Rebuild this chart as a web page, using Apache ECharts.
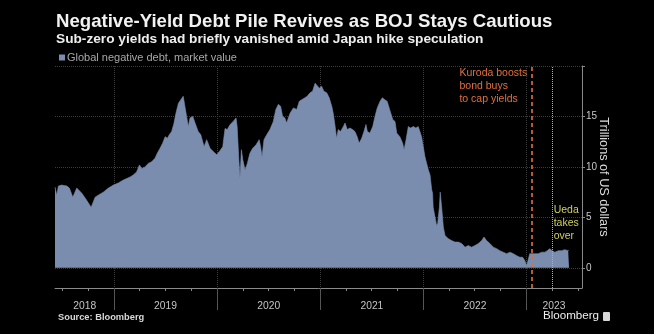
<!DOCTYPE html>
<html><head><meta charset="utf-8">
<script src="https://cdn.jsdelivr.net/npm/echarts@6/dist/echarts.min.js"></script>
<style>html,body{margin:0;padding:0;background:#000;}#c{width:654px;height:334px;}</style>
</head><body><div id="c"></div>
<script>
const seriesName = 'Global negative debt, market value';
const dates = ['2018-06-06','2018-06-12','2018-06-18','2018-06-30','2018-07-18','2018-07-27','2018-08-08','2018-08-22','2018-09-09','2018-09-26','2018-10-12','2018-10-26','2018-11-06','2018-11-24','2018-12-12','2018-12-30',
'2019-01-16','2019-02-03','2019-02-27','2019-03-10','2019-03-22','2019-04-01','2019-04-09','2019-04-21','2019-05-02','2019-05-14','2019-05-26','2019-06-03','2019-06-13','2019-06-22','2019-07-01','2019-07-09','2019-07-16','2019-07-24','2019-08-01','2019-08-08','2019-08-17','2019-08-29','2019-09-03','2019-09-09','2019-09-15','2019-09-21','2019-09-27','2019-10-07','2019-10-15','2019-10-26','2019-11-04','2019-11-16','2019-11-25','2019-12-07','2019-12-19','2019-12-31',
'2020-01-11','2020-01-21','2020-01-29','2020-02-06','2020-02-16','2020-02-27','2020-03-08','2020-03-12','2020-03-18','2020-03-22','2020-03-27','2020-04-01','2020-04-09','2020-04-17','2020-04-26','2020-05-06','2020-05-18','2020-05-29','2020-06-03','2020-06-08','2020-06-15','2020-06-25','2020-07-06','2020-07-18','2020-07-27','2020-08-05','2020-08-13','2020-08-20','2020-08-28','2020-09-03','2020-09-15','2020-09-27','2020-10-09','2020-10-18','2020-10-26','2020-11-07','2020-11-15','2020-11-25','2020-12-04','2020-12-13','2020-12-19','2020-12-28',
'2021-01-05','2021-01-13','2021-01-23','2021-02-01','2021-02-10','2021-02-15','2021-02-21','2021-02-27','2021-03-05','2021-03-13','2021-03-23','2021-03-29','2021-04-06','2021-04-15','2021-04-25','2021-05-03','2021-05-11','2021-05-18','2021-05-27','2021-06-04','2021-06-11','2021-06-16','2021-06-25','2021-07-05','2021-07-13','2021-07-21','2021-07-31','2021-08-08','2021-08-17','2021-08-25','2021-09-04','2021-09-14','2021-09-22','2021-09-28','2021-10-03','2021-10-09','2021-10-19','2021-10-24','2021-10-31','2021-11-08','2021-11-16','2021-11-26','2021-12-05','2021-12-13','2021-12-19','2021-12-25','2021-12-31',
'2022-01-06','2022-01-12','2022-01-18','2022-01-24','2022-01-30','2022-02-02','2022-02-04','2022-02-08','2022-02-13','2022-02-16','2022-02-20','2022-02-26','2022-03-01','2022-03-05','2022-03-08','2022-03-12','2022-03-18','2022-03-29','2022-04-10','2022-04-22','2022-05-04','2022-05-16','2022-05-28','2022-06-08','2022-06-20','2022-07-02','2022-07-14','2022-07-26','2022-08-03','2022-08-12','2022-08-24','2022-09-05','2022-09-17','2022-09-28','2022-10-10','2022-10-22','2022-11-03','2022-11-15','2022-11-27','2022-12-08','2022-12-18','2022-12-26',
'2023-01-01','2023-01-06','2023-01-12','2023-01-18','2023-01-30','2023-02-11','2023-02-23','2023-03-07','2023-03-15','2023-03-24','2023-04-01','2023-04-11','2023-04-23','2023-05-05','2023-05-16','2023-05-28','2023-05-31'];
const debt = [8.0,7.2,8.1,8.2,8.1,7.9,7.0,7.9,7.4,6.7,6.0,7.0,7.2,7.5,7.9,8.2,
8.4,8.7,9.0,9.2,9.5,10.2,9.85,10.0,10.35,10.5,10.85,11.35,11.85,12.35,13.0,12.85,13.2,13.5,14.3,15.3,16.3,16.8,17.0,16.0,15.0,14.0,14.85,15.0,14.35,13.5,13.2,12.0,12.7,11.85,11.5,11.2,
11.6,12.0,13.8,13.7,14.2,14.5,14.85,14.0,10.7,8.9,11.7,10.7,9.7,10.35,11.35,11.85,12.2,12.7,12.0,11.0,12.7,13.2,13.7,14.5,15.7,16.2,16.0,15.0,14.85,14.35,15.3,15.85,15.7,16.5,16.65,16.85,17.0,17.35,17.5,18.3,18.15,17.8,
18.0,17.5,17.35,16.85,16.0,15.35,14.2,12.85,13.7,13.5,14.0,14.35,13.7,13.85,13.7,13.5,13.0,12.35,12.85,13.5,14.2,13.5,13.35,14.0,15.0,15.85,16.5,16.85,16.65,16.5,15.6,14.7,14.5,13.35,13.5,13.0,12.35,11.7,12.7,14.0,13.85,14.0,13.85,14.0,14.0,13.0,12.0,
11.0,10.35,9.7,9.2,7.7,7.4,6.0,5.4,4.7,4.2,4.4,6.0,7.5,7.5,5.4,4.05,3.2,2.9,2.7,2.55,2.55,2.4,2.05,2.2,2.05,2.2,2.4,2.7,3.05,2.7,2.4,2.05,1.9,1.7,1.55,1.4,1.55,1.4,1.2,1.05,1.05,0.7,
0.2,0.1,1.4,1.55,1.4,1.4,1.55,1.55,1.7,1.9,1.7,1.55,1.7,1.7,1.8,1.7,1.75];
const xMin = '2018-06-06', xMax = '2023-07-16';
const yearStarts = ['2019-01-01','2020-01-01','2021-01-01','2022-01-01','2023-01-01'];
const quarterTicks = ['2018-07-01','2018-10-01','2019-04-01','2019-07-01','2019-10-01','2020-04-01','2020-07-01','2020-10-01','2021-04-01','2021-07-01','2021-10-01','2022-04-01','2022-07-01','2022-10-01','2023-04-01','2023-07-01'];
const yearLabelDates = ['2018-09-19','2019-07-02','2020-07-02','2021-07-02','2022-07-02','2023-04-08'];
const yTicks = [0,5,10,15,20];
const yLabels = [0,5,10,15];
const kuroda = {date:'2023-01-18', text:'Kuroda boosts\nbond buys\nto cap yields'};
const ueda = {date:'2023-04-03', text:'Ueda\ntakes\nover'};

const ts = s => echarts.number.parseDate(s).getTime();
const F = "'Liberation Sans', Arial, sans-serif";
const chart = echarts.init(document.getElementById('c'), null, {renderer:'canvas'});
chart.setOption({
  backgroundColor:'#000',
  animation:false,
  title:[
    {text:'Negative-Yield Debt Pile Revives as BOJ Stays Cautious', left:56, top:12, padding:0,
     textStyle:{color:'#f2f2f2', fontFamily:F, fontWeight:'bold', fontSize:18.6}},
    {text:'Sub-zero yields had briefly vanished amid Japan hike speculation', left:56, top:32, padding:0,
     textStyle:{color:'#eeeeee', fontFamily:F, fontWeight:'bold', fontSize:13.7}},
    {text:'Source: Bloomberg', left:58, top:313, padding:0,
     textStyle:{color:'#d8d8d8', fontFamily:F, fontWeight:'bold', fontSize:9.3}}
  ],
  graphic:[
    {type:'text', x:543, y:310, style:{text:'Bloomberg', align:'left', verticalAlign:'top', fill:'#eeeeee', font:"11.6px 'Liberation Sans', Arial, sans-serif"}},
    {type:'rect', shape:{x:603, y:312, width:7, height:9, r:1}, style:{fill:'#d8d8d8'}}
  ],
  legend:{data:[seriesName], left:59, top:52, padding:0, icon:'rect', itemWidth:6, itemHeight:6, itemGap:4,
    textStyle:{color:'#a8a8a8', fontFamily:"'Liberation Sans Narrow', 'Liberation Sans', sans-serif", fontSize:11, padding:[0,0,0,-3]}},
  grid:{left:55, right:72, top:66, bottom:46, containLabel:false},
  xAxis:[
    {type:'value', min:ts(xMin), max:ts(xMax), position:'bottom', scale:true,
     axisLine:{show:true, onZero:false, lineStyle:{color:'#8a8a8a', width:1}},
     axisTick:{show:true, customValues:quarterTicks.map(ts), length:3, lineStyle:{color:'#8a8a8a'}},
     axisLabel:{show:true, customValues:yearLabelDates.map(ts), color:'#c4c4c4', fontFamily:F, fontSize:10.3, margin:13,
       formatter:v => String(new Date(v).getFullYear())},
     splitLine:{show:false}},
    {type:'value', min:ts(xMin), max:ts(xMax), position:'bottom', scale:true,
     axisLine:{show:false, onZero:false},
     axisTick:{show:true, customValues:yearStarts.map(ts), length:22, lineStyle:{color:'#555'}},
     axisLabel:{show:false},
     splitLine:{show:true, lineStyle:{color:'#3c3c3c', type:'dotted', width:1}}}
  ],
  yAxis:{type:'value', position:'right', min:-2, max:20,
    name:'Trillions of US dollars', nameLocation:'middle', nameRotate:-90, nameGap:15, nameMoveOverlap:false,
    nameTextStyle:{color:'#dadada', fontFamily:F, fontSize:12.7},
    axisLine:{show:true, onZero:false, lineStyle:{color:'#8a8a8a'}},
    axisTick:{show:true, customValues:yTicks, length:3, lineStyle:{color:'#8a8a8a'}},
    axisLabel:{customValues:yLabels, color:'#c8c8c8', fontFamily:F, fontSize:10, margin:4},
    splitLine:{show:true, lineStyle:{color:'#3c3c3c', type:'dotted', width:1}}},
  series:[{
    name:seriesName, type:'line', xAxisIndex:0, symbol:'none', showSymbol:false,
    data:dates.map((d,i)=>[ts(d), debt[i]]),
    lineStyle:{width:0.6, color:'#7b8daf'}, itemStyle:{color:'#7b8daf'},
    areaStyle:{color:'#7b8daf', opacity:1},
    markLine:{symbol:'none', silent:true, label:{show:false},
      data:[
        {xAxis:ts(kuroda.date), lineStyle:{color:'#e2703f', type:[4,3], width:1.6}},
        {xAxis:ts(ueda.date), lineStyle:{color:'#b9b86a', type:'dotted', width:1}}
      ]},
    markPoint:{symbol:'circle', symbolSize:0, silent:true,
      data:[
        {coord:[ts(kuroda.date), 20], label:{show:true, formatter:kuroda.text, position:[-72,1], align:'left', verticalAlign:'top',
          color:'#e2703f', fontFamily:F, fontSize:10.5, lineHeight:12.7}},
        {coord:[ts(ueda.date), 6.3], label:{show:true, formatter:ueda.text, position:[1,0], align:'left', verticalAlign:'top',
          color:'#cfcf62', fontFamily:F, fontSize:10.5, lineHeight:12.7}}
      ]}
  }]
});
</script></body></html>
